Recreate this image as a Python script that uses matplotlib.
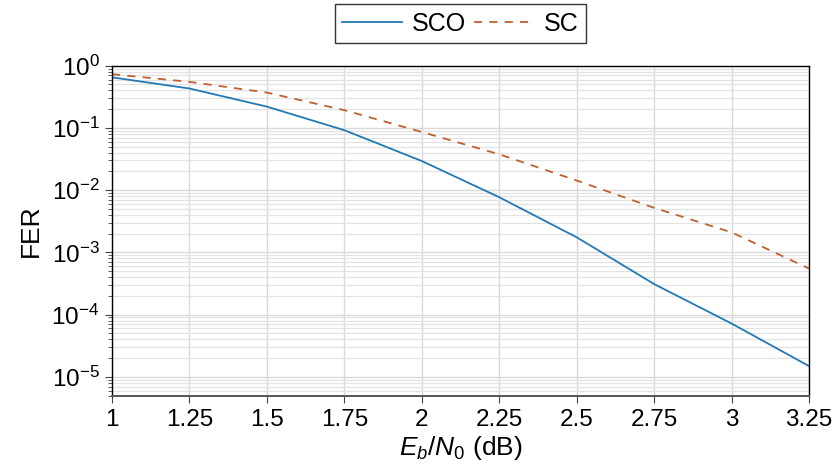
import numpy as np
import matplotlib
matplotlib.use('Agg')
import matplotlib.pyplot as plt
from matplotlib.ticker import LogLocator, NullFormatter

plt.rcParams['font.family'] = ['Liberation Sans', 'DejaVu Sans']
plt.rcParams['mathtext.fontset'] = 'custom'
plt.rcParams['mathtext.rm'] = 'Liberation Sans'
plt.rcParams['mathtext.it'] = 'Liberation Sans:italic'

# Eb/N0 (dB)
ebn0 = [1.0, 1.25, 1.5, 1.75, 2.0, 2.25, 2.5, 2.75, 3.0, 3.25]
fer_sco = [0.65, 0.43, 0.22, 0.092, 0.0294, 0.0077, 0.00175, 3.1e-4, 7.2e-5, 1.49e-5]
fer_sc = [0.73, 0.55, 0.37, 0.193, 0.086, 0.0377, 0.0143, 0.0052, 0.0021, 5.5e-4]
xticks = [1, 1.25, 1.5, 1.75, 2, 2.25, 2.5, 2.75, 3, 3.25]
xticklabels = ['1', '1.25', '1.5', '1.75', '2', '2.25', '2.5', '2.75', '3', '3.25']

fig = plt.figure(figsize=(8.35, 4.68), dpi=100)
ax = fig.add_axes([112 / 835, 1 - 395.6 / 468, (809 - 112) / 835, (395.6 - 65.7) / 468])

ax.plot(ebn0, fer_sco, color='#2279b5', lw=1.3, label='SCO')
ax.plot(ebn0, fer_sc, color='#c0602e', lw=1.3, ls=(0, (4.5, 4)), label='SC')

ax.set_yscale('log')
ax.set_xlim(1, 3.25)
ax.set_ylim(5e-6, 1)
ax.set_xticks(xticks)
ax.set_xticklabels(xticklabels)
ax.yaxis.set_major_locator(LogLocator(base=10, numticks=10))
ax.yaxis.set_minor_locator(LogLocator(base=10, subs=np.arange(2, 10), numticks=20))
ax.yaxis.set_minor_formatter(NullFormatter())

ax.grid(True, which='major', color='#d9d9d9', lw=1)
ax.grid(True, which='minor', axis='y', color='#e3e3e3', lw=0.9)
ax.set_axisbelow(True)

ax.tick_params(axis='both', which='major', labelsize=17.5, direction='out', length=5, width=0.8, color='#444444')
ax.tick_params(axis='y', which='minor', direction='out', length=3, width=0.6, color='#444444')
ax.tick_params(axis='x', pad=5)
ax.tick_params(axis='y', pad=4)

for s in ['left', 'top', 'right']:
    ax.spines[s].set_color('black')
    ax.spines[s].set_linewidth(1.0)
ax.spines['bottom'].set_color('#555555')
ax.spines['bottom'].set_linewidth(1.4)

ax.set_xlabel('$E_b/N_0$ (dB)', fontsize=19, labelpad=2)
ax.set_ylabel('FER', fontsize=19, labelpad=6)

leg = ax.legend(loc='lower center', bbox_to_anchor=(0.5, 1.03), ncol=2, fontsize=18,
                frameon=True, fancybox=False, edgecolor='black', handlelength=2.4,
                handletextpad=0.4, columnspacing=0.3, borderpad=0.3)
leg.get_frame().set_linewidth(1.0)

fig.savefig('out.png', dpi=100)
